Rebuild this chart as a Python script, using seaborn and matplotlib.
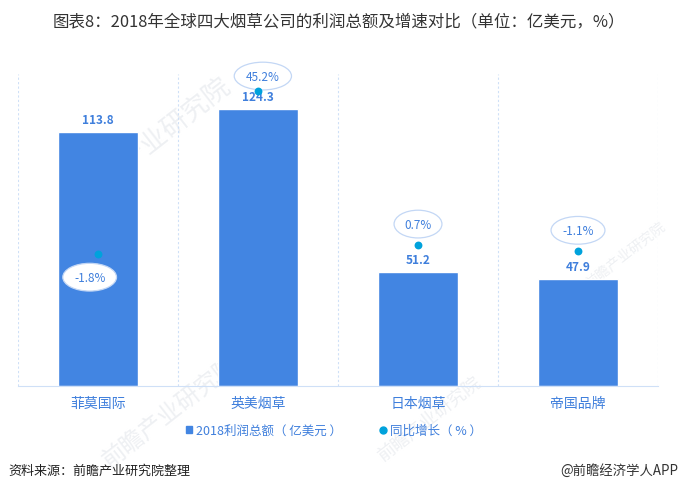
import matplotlib
matplotlib.use('Agg')
import matplotlib.pyplot as plt
import seaborn as sns

names = ['菲莫国际', '英美烟草', '日本烟草', '帝国品牌']
profits = [113.8, 124.3, 51.2, 47.9]
growth = [-1.8, 45.2, 0.7, -1.1]
growth_labels = ['-1.8%', '45.2%', '0.7%', '-1.1%']
profit_name = '2018利润总额（ 亿美元 ）'
growth_name = '同比增长（ % ）'
title = '图表8：2018年全球四大烟草公司的利润总额及增速对比（单位：亿美元，%）'
source = '资料来源：前瞻产业研究院整理'
brand = '@前瞻经济学人APP'
watermark = '前瞻产业研究院'

BLUE = '#4285e2'
TEXT = '#3f7fdc'
DOT = '#00a2dc'
EDGE = '#cfe0f7'


def plot():
    sns.set_style('white')
    plt.rcParams['font.family'] = ['Noto Sans CJK SC', 'DejaVu Sans']
    plt.figure(figsize=(6.79, 4.89), dpi=100)
    axes = plt.gca()
    axes.set_position([18 / 679, 102 / 489, 640 / 679, 312 / 489])
    axes.patch.set_visible(False)
    sns.barplot(x=names, y=profits, color=BLUE, saturation=1, width=0.5, ax=axes, label=profit_name, legend=False)
    axes.set_xlim([-0.5, 3.5])
    axes.set_ylim([0, 140])
    axes.set_yticks([])
    axes.set_xticks([0, 1, 2, 3])
    axes.set_xticklabels(names, color=TEXT, fontsize=10)
    axes.tick_params(axis='x', length=0, pad=7.5)
    axes.set_xticks([-0.5, 0.5, 1.5, 2.5, 3.5], minor=True)
    axes.tick_params(axis='x', which='minor', length=0)
    axes.grid(True, which='minor', axis='x', color=EDGE, linestyle=(0, (2, 2)), linewidth=0.8)
    axes.set_axisbelow(True)
    sns.despine(ax=axes, left=True, top=True, right=True)
    axes.spines['bottom'].set_color(EDGE)
    axes.bar_label(axes.containers[0], fmt='%.1f', padding=4.5, color=TEXT, fontsize=8.5, fontweight='bold')

    # growth sits on its own scale, on top of the bars
    axes2 = axes.twinx()
    axes2.set_position(axes.get_position())
    sns.scatterplot(x=names, y=growth, color=DOT, s=32, linewidth=0, ax=axes2, label=growth_name, legend=False, zorder=7)
    axes2.set_ylim([-40, 50])
    axes2.set_yticks([])
    axes2.set_ylabel('')
    sns.despine(ax=axes2, left=True, top=True, right=True, bottom=True)

    offsets = [(-6, -17), (3.5, 10.5), (0, 15), (0, 15)]
    for i in range(len(names)):
        axes2.annotate(growth_labels[i], (names[i], growth[i]), xytext=offsets[i], textcoords='offset points',
                       ha='center', va='center', color=TEXT, fontsize=8.5, zorder=6,
                       bbox=dict(boxstyle='ellipse,pad=0.28', facecolor='white', edgecolor='#c3d7f5', linewidth=0.9))

    fig = plt.gcf()
    # faint watermark, behind the axes
    for x, y, size in [(155, 140, 19), (170, 412, 17), (430, 420, 13), (625, 255, 10)]:
        fig.text(x / 679, 1 - y / 489, watermark, fontsize=size, color='#eef0f3', rotation=38,
                 ha='center', va='center', zorder=-1)

    handles = [plt.Rectangle((0, 0), 1, 1, color=BLUE),
               plt.Line2D([], [], marker='o', linestyle='', color=DOT, markersize=5)]
    fig.legend(handles, [profit_name, growth_name], loc='center', bbox_to_anchor=(334 / 679, 1 - 431 / 489), ncol=2,
               frameon=False, fontsize=9, labelcolor=TEXT, columnspacing=2.96, handletextpad=0.35,
               handlelength=0.5, handleheight=0.5)

    fig.text(53 / 679, 1 - 22 / 489, title, fontsize=11.85, color='#333333', ha='left', va='center')
    fig.text(8 / 679, 1 - 471 / 489, source, fontsize=9.4, color='#222222', ha='left', va='center')
    fig.text(678 / 679, 1 - 471 / 489, brand, fontsize=9.6, color='#333333', ha='right', va='center')
    plt.savefig('out.png', dpi=100)


if __name__ == '__main__':
    plot()
